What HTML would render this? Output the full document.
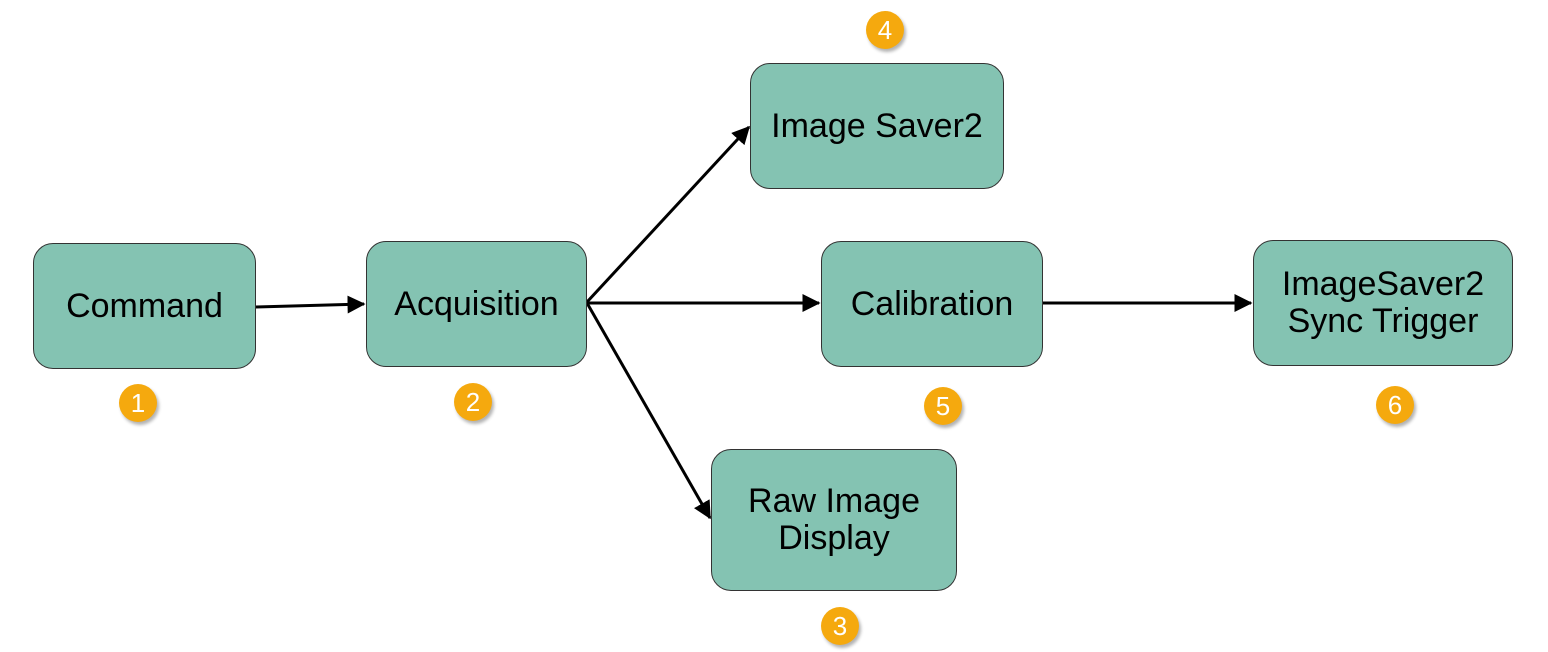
<!DOCTYPE html>
<html><head><style>
body{margin:0;background:#fff;width:1548px;height:652px;overflow:hidden;position:relative;font-family:"Liberation Sans",Arial,sans-serif}
.b{position:absolute;background:#84c3b2;border:1.3px solid #333;border-radius:20px;box-sizing:border-box;display:flex;align-items:center;justify-content:center;text-align:center;font-size:34px;line-height:37px;color:#000}
.c{position:absolute;width:38px;height:38px;border-radius:50%;background:#f5a90e;color:#fff;font-size:26px;line-height:38px;text-align:center;box-shadow:2px 3px 3px rgba(0,0,0,0.3)}
svg{position:absolute;left:0;top:0}
</style></head><body>
<svg width="1548" height="652">
<defs><marker id="a" markerWidth="6" markerHeight="6" refX="5.5" refY="3" orient="auto" markerUnits="strokeWidth"><path d="M0,0 L6,3 L0,6 z" fill="#000"/></marker></defs>
<g stroke="#000" stroke-width="3" fill="none">
<line x1="256" y1="307" x2="364" y2="304" marker-end="url(#a)"/>
<line x1="587" y1="302" x2="749" y2="127" marker-end="url(#a)"/>
<line x1="587" y1="303" x2="819" y2="303" marker-end="url(#a)"/>
<line x1="587" y1="303" x2="710" y2="518" marker-end="url(#a)"/>
<line x1="1043" y1="303" x2="1251" y2="303" marker-end="url(#a)"/>
</g></svg>
<div class="b" style="left:33px;top:243px;width:223px;height:126px">Command</div>
<div class="b" style="left:366px;top:241px;width:221px;height:126px">Acquisition</div>
<div class="b" style="left:750px;top:63px;width:254px;height:126px">Image Saver2</div>
<div class="b" style="left:821px;top:241px;width:222px;height:126px">Calibration</div>
<div class="b" style="left:1253px;top:240px;width:260px;height:126px">ImageSaver2<br>Sync Trigger</div>
<div class="b" style="left:711px;top:449px;width:246px;height:142px">Raw Image<br>Display</div>
<div class="c" style="left:119px;top:384px">1</div>
<div class="c" style="left:454px;top:383px">2</div>
<div class="c" style="left:866px;top:11px">4</div>
<div class="c" style="left:924px;top:387px">5</div>
<div class="c" style="left:1376px;top:386px">6</div>
<div class="c" style="left:821px;top:607px">3</div>
</body></html>
